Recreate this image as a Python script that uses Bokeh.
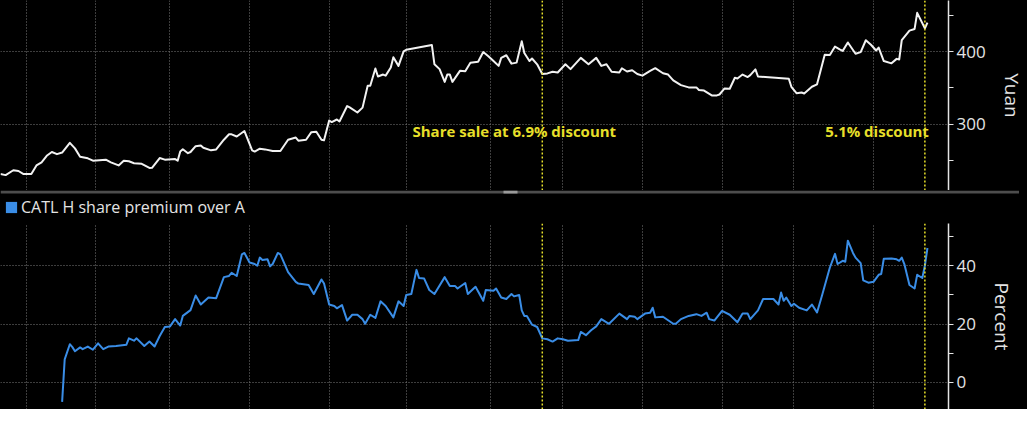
import pandas as pd
from bokeh.plotting import figure
from bokeh.layouts import column
from bokeh.models import (ColumnDataSource, Range1d, FixedTicker, Span, Label,
                          Legend, LegendItem, BoxAnnotation)
from bokeh.embed import file_html
from bokeh.resources import INLINE

# ---------------- data ----------------
START = "2025-04-26"          # day 0
END_DAY = 369.2               # right edge of the chart, in days after START

# CATL A-share price (Yuan); day offsets after START
price_day = [0, 2, 5, 7, 9, 12, 14, 16, 18, 20, 22, 24, 27, 29, 31, 34, 36, 41, 43, 46,
             48, 50, 52, 55, 58, 59, 62, 64, 68, 69, 70, 71, 73, 74, 76, 78, 79, 82, 84, 87,
             89, 90, 92, 95, 98, 99, 101, 103, 106, 109, 112, 115, 116, 119, 121, 123, 125, 126, 128, 129,
             131, 132, 135, 136, 139, 141, 143, 144, 146, 147, 149, 150, 152, 153, 155, 157, 158, 168, 169, 171,
             173, 174, 175, 176, 179, 181, 183, 186, 188, 190, 192, 194, 195, 197, 199, 201, 203, 204, 206, 207,
             209, 211, 213, 215, 217, 220, 222, 226, 229, 232, 234, 236, 238, 241, 242, 244, 246, 248, 250, 253,
             255, 258, 260, 262, 265, 268, 271, 272, 274, 277, 279, 280, 282, 284, 286, 287, 289, 291, 292, 294,
             295, 307, 308, 310, 312, 313, 316, 318, 321, 323, 325, 327, 328, 330, 333, 335, 337, 339, 341, 342,
             344, 347, 349, 350, 351, 354, 356, 357, 360, 361]
price_yuan = [230.7, 229.3, 236.0, 235.0, 230.7, 230.7, 242.7, 247.0, 256.0, 261.3, 258.3, 260.5, 273.9, 266.3, 254.7, 252.5, 249.3, 250.7, 247.0, 242.7,
              249.3, 248.4, 245.8, 244.9, 239.2, 239.4, 252.9, 250.7, 251.5, 249.3, 261.9, 265.0, 259.6, 261.3, 269.4, 270.3, 267.1, 263.6, 264.9, 278.3,
              285.8, 285.8, 282.7, 290.3, 263.6, 261.9, 265.8, 264.9, 262.7, 262.7, 278.3, 281.3, 277.0, 278.3, 288.5, 289.3, 278.3, 277.4, 304.9, 302.7,
              306.3, 303.6, 324.9, 323.1, 316.0, 322.7, 352.9, 352.9, 376.9, 365.8, 368.5, 367.0, 378.3, 392.5, 380.5, 400.5, 402.7, 409.3, 382.7, 376.0,
              358.3, 368.5, 368.5, 358.3, 373.9, 373.0, 384.9, 386.2, 399.6, 393.9, 387.2, 380.5, 391.6, 395.2, 383.6, 385.0, 414.7, 398.3, 387.2, 390.7,
              382.7, 369.3, 370.1, 372.3, 371.4, 382.7, 376.0, 391.6, 382.7, 391.6, 380.5, 382.7, 372.3, 371.4, 377.2, 372.7, 374.5, 369.2, 367.0, 373.6,
              377.3, 370.3, 368.5, 360.5, 353.9, 350.7, 350.7, 347.2, 346.3, 339.6, 339.6, 340.9, 349.3, 348.9, 364.0, 363.1, 368.5, 365.0, 367.7, 375.6,
              365.8, 362.7, 351.6, 342.7, 343.6, 342.3, 351.6, 355.0, 396.0, 395.6, 407.2, 403.1, 401.3, 412.9, 397.3, 399.6, 416.0, 409.8, 401.8, 405.8,
              387.2, 384.0, 390.2, 389.3, 416.0, 429.3, 431.6, 453.9, 432.5, 440.5]

# CATL H-share premium over A-share (percent)
prem_day = [24, 25, 27, 28, 29, 31, 32, 34, 36, 38, 40, 42, 45, 49, 50, 52, 53, 56, 58, 60,
            62, 64, 66, 68, 70, 71, 74, 76, 78, 81, 84, 87, 89, 90, 92, 94, 95, 97, 99, 100,
            101, 102, 104, 105, 106, 108, 109, 112, 115, 116, 120, 122, 125, 126, 128, 130, 131, 133, 135, 137,
            139, 141, 142, 144, 146, 148, 150, 153, 155, 157, 158, 160, 162, 163, 165, 167, 169, 173, 175, 177,
            178, 181, 182, 185, 188, 189, 192, 193, 195, 197, 199, 200, 202, 203, 204, 205, 207, 209, 211, 213,
            215, 217, 219, 221, 225, 226, 228, 230, 232, 234, 237, 241, 244, 245, 247, 248, 251, 253, 254, 255,
            258, 262, 263, 265, 268, 271, 273, 275, 276, 278, 281, 284, 287, 289, 291, 292, 295, 297, 301, 303,
            304, 305, 306, 308, 309, 311, 314, 316, 318, 320, 323, 325, 326, 328, 329, 330, 332, 333, 335, 336,
            338, 340, 342, 343, 344, 347, 349, 350, 351, 352, 354, 356, 357, 359, 360, 361]
prem_pct = [-6.7, 7.9, 13.1, 12.1, 10.7, 12.0, 11.4, 12.3, 11.2, 13.4, 11.4, 12.3, 12.5, 12.9, 15.1, 14.3, 15.1, 12.5, 14.0, 12.3,
            15.9, 19.0, 19.2, 21.7, 19.5, 22.8, 24.8, 29.8, 26.7, 29.1, 28.9, 36.1, 36.5, 37.6, 36.5, 43.9, 44.4, 41.1, 40.6, 40.0,
            42.8, 42.0, 42.2, 39.8, 40.6, 44.4, 43.9, 37.8, 34.5, 33.9, 33.4, 30.3, 35.3, 33.9, 26.7, 26.2, 25.4, 26.5, 21.2, 23.2,
            23.2, 21.7, 20.1, 23.2, 22.1, 27.8, 26.2, 22.3, 27.8, 26.2, 30.0, 30.3, 38.6, 35.8, 35.6, 31.7, 30.3, 36.1, 33.1, 33.1,
            32.2, 34.1, 30.3, 32.8, 28.0, 31.7, 31.4, 32.2, 29.1, 28.6, 30.3, 29.5, 30.0, 24.7, 22.8, 22.8, 19.8, 19.0, 15.1, 14.8,
            14.0, 15.1, 14.8, 14.3, 14.5, 17.3, 16.2, 17.9, 19.2, 21.7, 20.1, 23.6, 21.7, 22.8, 22.5, 21.7, 23.6, 23.9, 25.6, 22.3,
            22.5, 20.1, 20.1, 21.7, 22.8, 23.4, 22.8, 23.9, 21.7, 21.2, 24.5, 23.2, 20.6, 23.6, 23.6, 21.7, 24.7, 28.6, 28.6, 26.7,
            30.8, 28.0, 29.1, 26.2, 27.0, 25.6, 24.7, 26.7, 24.0, 30.0, 39.4, 44.1, 40.6, 41.7, 41.4, 48.6, 44.4, 42.8, 40.9, 35.0,
            34.2, 34.5, 36.9, 37.2, 42.4, 42.5, 42.2, 41.7, 42.8, 40.6, 33.4, 32.2, 36.9, 35.8, 40.0, 46.1]

month_ticks = ["2025-05-06", "2025-06-02", "2025-07-01", "2025-08-01", "2025-09-01", "2025-10-01",
               "2025-11-03", "2025-12-01", "2026-01-01", "2026-02-01", "2026-03-01", "2026-04-01"]
event_dates = ["2025-11-23", "2026-04-21"]
event_labels = ["Share sale at 6.9% discount", "5.1% discount"]
yuan_ticks = [300, 400]
yuan_minor = [250, 350, 450]
pct_ticks = [0, 20, 40]
pct_minor = [-10, 10, 30, 50]
legend_label = "CATL H share premium over A"

# ---------------- styling ----------------
FONT = "Open Sans"
BG = "#000000"
FG = "#e4e4e4"
GRID = "#7a7a7a"
YEL = "#e6df2a"
BLUE = "#3a8de6"
WHITE_LINE = "#f2f2f2"
SEP = "#4d4d4d"
FW = 948
TOTAL_W = 1019
TOP_H = 190
BOT_H = 186
STRIP_H = 33          # separator + legend strip between the panels
SEP_H = 3


def ms(d):
    return pd.Timestamp(d).timestamp() * 1000.0


t0 = pd.Timestamp(START)
x_range = Range1d(ms(START), ms(START) + END_DAY * 86400000.0)

price_src = ColumnDataSource(dict(date=t0 + pd.to_timedelta(price_day, unit="D"), v=price_yuan))
prem_src = ColumnDataSource(dict(date=t0 + pd.to_timedelta(prem_day, unit="D"), v=prem_pct))


def style(p, ticks, minor, label):
    p.xgrid.ticker = FixedTicker(ticks=[ms(d) for d in month_ticks])
    for g in (p.xgrid, p.ygrid):
        g.grid_line_color = GRID
        g.grid_line_dash = "1 2"
        g.grid_line_width = 1
    ax = p.yaxis[0]
    ax.ticker = FixedTicker(ticks=ticks, minor_ticks=minor)
    ax.axis_label = label
    ax.axis_label_text_font = FONT
    ax.axis_label_text_font_style = "normal"
    ax.axis_label_text_font_size = "19px"
    ax.axis_label_text_color = FG
    ax.axis_label_standoff = 10
    ax.major_label_text_font = FONT
    ax.major_label_text_font_size = "17px"
    ax.major_label_text_color = FG
    ax.major_label_standoff = 3
    ax.axis_line_color = FG
    ax.axis_line_width = 1.5
    ax.major_tick_line_color = FG
    ax.major_tick_in = 0
    ax.major_tick_out = 5
    ax.minor_tick_line_color = FG
    ax.minor_tick_in = 0
    ax.minor_tick_out = 5
    for d in event_dates:
        p.add_layout(Span(location=ms(d), dimension="height", line_color=YEL,
                          line_dash="2 2", line_width=1.5))


def make_fig(h, yr):
    return figure(frame_width=FW, frame_height=h, x_axis_type="datetime",
                  x_axis_location=None, y_axis_location="right",
                  x_range=x_range, y_range=yr, output_backend="svg",
                  toolbar_location=None, background_fill_color=BG,
                  border_fill_color=BG, outline_line_color=None, min_border=0)


# ---- top: A-share price ----
top = make_fig(TOP_H, Range1d(208, 471))
style(top, yuan_ticks, yuan_minor, "Yuan")
top.line(x="date", y="v", source=price_src, line_color=WHITE_LINE, line_width=2,
         line_join="round")
top.add_layout(Label(x=ms(event_dates[0]), y=291, text=event_labels[0],
                     text_align="center", text_baseline="middle", x_offset=-28,
                     text_color=YEL, text_font=FONT, text_font_style="bold",
                     text_font_size="15px"))
top.add_layout(Label(x=ms(event_dates[1]), y=291, text=event_labels[1],
                     text_align="right", text_baseline="middle", x_offset=4,
                     text_color=YEL, text_font=FONT, text_font_style="bold",
                     text_font_size="15px"))

# ---- strip: grey separator band + legend of the lower panel ----
strip = figure(frame_width=TOTAL_W, frame_height=STRIP_H,
               x_range=Range1d(0, TOTAL_W), y_range=Range1d(0, STRIP_H),
               x_axis_location=None, y_axis_location=None,
               output_backend="svg", toolbar_location=None, min_border=0,
               background_fill_color=BG, border_fill_color=BG, outline_line_color=None)
strip.grid.visible = False
strip.add_layout(BoxAnnotation(bottom=STRIP_H - SEP_H, top=STRIP_H,
                               fill_color=SEP, fill_alpha=1, line_color=None))
strip.add_layout(BoxAnnotation(bottom=STRIP_H - SEP_H, top=STRIP_H, left=503, right=517,
                               fill_color="#9a9a9a", fill_alpha=1, line_color=None))
# zero-area swatch renderer: draws nothing itself, only supplies the legend's square
swatch = strip.quad(left=[0], right=[0], top=[0], bottom=[0], fill_color=BLUE,
                    line_color=None)
legend = Legend(items=[LegendItem(label=legend_label, renderers=[swatch])],
                location=(4, 5), orientation="horizontal",
                background_fill_alpha=0, border_line_color=None,
                label_text_color=FG, label_text_font=FONT, label_text_font_size="16px",
                glyph_width=14, glyph_height=14, label_standoff=3,
                padding=2, margin=0, spacing=0)
strip.add_layout(legend)

# ---- bottom: premium ----
bot = make_fig(BOT_H, Range1d(-9.3, 54.5))
style(bot, pct_ticks, pct_minor, "Percent")
bot.line(x="date", y="v", source=prem_src, line_color=BLUE, line_width=2,
         line_join="round")

layout = column(top, strip, bot, spacing=0, styles={"background": BG})
open("out.html", "w").write(file_html(layout, INLINE))
